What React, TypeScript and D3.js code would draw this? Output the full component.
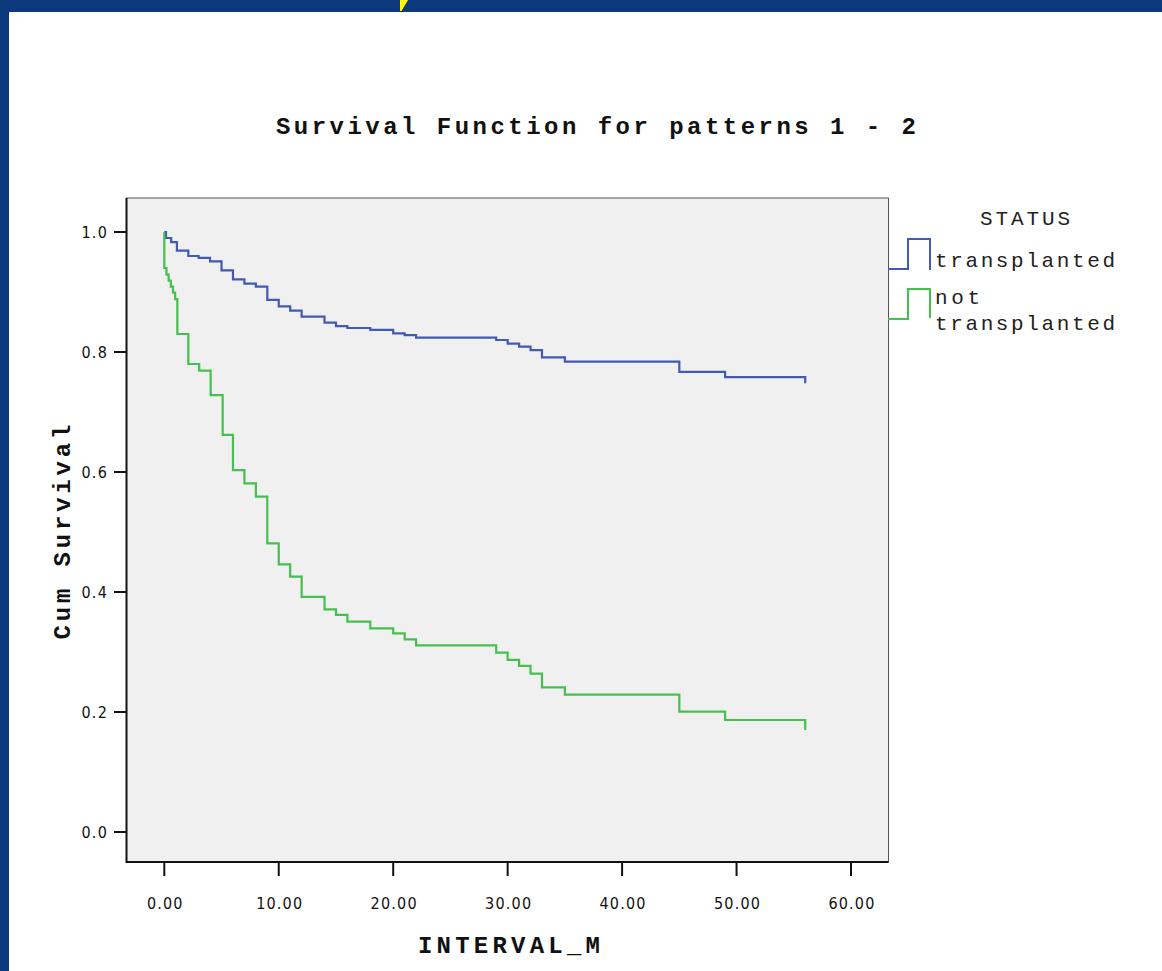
import React from "react";
import * as d3 from "d3";

const title = "Survival Function for patterns 1 - 2";
const xAxisTitle = "INTERVAL_M";
const yAxisTitle = "Cum Survival";
const legendTitle = "STATUS";
const seriesNames = ["transplanted", "not transplanted"];
const xTicks = [0, 10, 20, 30, 40, 50, 60];
const yTicks = [0, 0.2, 0.4, 0.6, 0.8, 1.0];

const transplantedTimes = [0, 0.15, 0.6, 1.1, 2.1, 3, 4, 5, 6, 7, 8, 9, 10, 11, 12, 14, 15, 16, 18, 20, 21, 22, 29, 30, 31, 32, 33, 35, 45, 49, 56];
const transplantedSurv = [1.0, 0.99, 0.983, 0.969, 0.96, 0.957, 0.951, 0.936, 0.921, 0.914, 0.909, 0.887, 0.876, 0.869, 0.859, 0.849, 0.843, 0.84, 0.837, 0.831, 0.828, 0.824, 0.82, 0.814, 0.809, 0.803, 0.791, 0.784, 0.767, 0.758, 0.748];

const notTransplantedTimes = [0, 0, 0.19, 0.38, 0.57, 0.76, 0.95, 1.14, 2.1, 3.05, 4.05, 5.1, 6, 7, 8, 9, 10, 11, 12, 14, 15, 16, 18, 20, 21, 22, 29, 30, 31, 32, 33, 35, 45, 49, 56];
const notTransplantedSurv = [1.0, 0.94, 0.929, 0.919, 0.909, 0.899, 0.888, 0.83, 0.78, 0.769, 0.728, 0.662, 0.603, 0.581, 0.559, 0.481, 0.446, 0.4255, 0.392, 0.371, 0.362, 0.3505, 0.3395, 0.331, 0.321, 0.311, 0.299, 0.287, 0.277, 0.264, 0.241, 0.229, 0.2006, 0.1867, 0.17];

const W = 1162;
const H = 971;
const NAVY = "#0b397c";
const BLUE = "#4259b5";
const GREEN = "#45c04f";
const MONO = "'Liberation Mono', 'DejaVu Sans Mono', monospace";
const NARROW = "'Liberation Sans Narrow', 'DejaVu Sans Condensed', 'Arial Narrow', sans-serif";

export default function App() {
  const plot = { left: 126.5, right: 888.5, top: 198, bottom: 862 };
  const x = d3.scaleLinear().domain([0, 60]).range([164.3, 851]);
  const y = d3.scaleLinear().domain([0, 1]).range([832, 232]);

  const line = d3
    .line<[number, number]>()
    .x((d) => x(d[0]))
    .y((d) => y(d[1]))
    .curve(d3.curveStepAfter);

  const blueData: [number, number][] = transplantedTimes.map((t, i) => [t, transplantedSurv[i]]);
  const greenData: [number, number][] = notTransplantedTimes.map((t, i) => [t, notTransplantedSurv[i]]);

  return (
    <div style={{ position: "absolute", left: 0, top: 0, width: W, height: H, overflow: "hidden" }}>
      <style>{`html,body{margin:0;padding:0;overflow:hidden;}`}</style>
      <svg width={W} height={H} style={{ display: "block" }}>
        <rect x={0} y={0} width={W} height={H} fill={NAVY} />
        <rect x={9} y={12} width={W - 9} height={H - 12} fill="#ffffff" />
        <polygon points="400,0 408,0 401.5,11 400,11" fill="#ffff00" />

        {/* title */}
        <text
          x={596}
          y={134}
          textAnchor="middle"
          fontFamily={MONO}
          fontWeight="bold"
          fontSize={24}
          textLength={640}
          lengthAdjust="spacing"
          fill="#111"
        >
          {title}
        </text>

        {/* plot area */}
        <rect
          x={plot.left}
          y={plot.top}
          width={plot.right - plot.left}
          height={plot.bottom - plot.top}
          fill="#f0f0f0"
          stroke="#555"
          strokeWidth={1}
        />
        <line x1={plot.left} x2={plot.left} y1={plot.top} y2={plot.bottom + 1} stroke="#111" strokeWidth={2} />
        <line x1={plot.left} x2={plot.right} y1={plot.bottom} y2={plot.bottom} stroke="#111" strokeWidth={2} />

        {/* y ticks */}
        {yTicks.map((v) => (
          <g key={"y" + v}>
            <line x1={114} x2={plot.left} y1={y(v)} y2={y(v)} stroke="#111" strokeWidth={2} />
            <text
              x={108}
              y={y(v) + 5.5}
              textAnchor="end"
              fontFamily={NARROW}
              fontSize={16}
              letterSpacing={1.2}
              fill="#111"
            >
              {v.toFixed(1)}
            </text>
          </g>
        ))}

        {/* x ticks */}
        {xTicks.map((v) => (
          <g key={"x" + v}>
            <line x1={x(v)} x2={x(v)} y1={plot.bottom} y2={876} stroke="#111" strokeWidth={2} />
            <text
              x={x(v) + 1}
              y={909}
              textAnchor="middle"
              fontFamily={NARROW}
              fontSize={16}
              letterSpacing={1.2}
              fill="#111"
            >
              {v.toFixed(2)}
            </text>
          </g>
        ))}

        {/* axis titles */}
        <text
          x={509}
          y={953}
          textAnchor="middle"
          fontFamily={MONO}
          fontWeight="bold"
          fontSize={24}
          textLength={182}
          lengthAdjust="spacing"
          fill="#111"
        >
          {xAxisTitle}
        </text>
        <text
          transform={`translate(70,532) rotate(-90)`}
          textAnchor="middle"
          fontFamily={MONO}
          fontWeight="bold"
          fontSize={24}
          textLength={215}
          lengthAdjust="spacing"
          fill="#111"
        >
          {yAxisTitle}
        </text>

        {/* curves */}
        <path d={line(blueData) || ""} fill="none" stroke={BLUE} strokeWidth={2.2} />
        <path d={line(greenData) || ""} fill="none" stroke={GREEN} strokeWidth={2.2} />

        {/* legend */}
        <text x={1025} y={225} textAnchor="middle" fontFamily={MONO} fontSize={21} textLength={90} lengthAdjust="spacing" fill="#222">
          {legendTitle}
        </text>
        <path d="M888,269 H908 V239 H930 V270" fill="none" stroke={BLUE} strokeWidth={2} />
        <text x={935} y={267} fontFamily={MONO} fontSize={21} textLength={180} lengthAdjust="spacing" fill="#222">
          {seriesNames[0]}
        </text>
        <path d="M888,319 H908 V289 H930 V318" fill="none" stroke={GREEN} strokeWidth={2} />
        <text x={935} y={304} fontFamily={MONO} fontSize={21} textLength={45} lengthAdjust="spacing" fill="#222">
          {seriesNames[1].split(" ")[0]}
        </text>
        <text x={935} y={330} fontFamily={MONO} fontSize={21} textLength={180} lengthAdjust="spacing" fill="#222">
          {seriesNames[1].split(" ")[1]}
        </text>
      </svg>
    </div>
  );
}
